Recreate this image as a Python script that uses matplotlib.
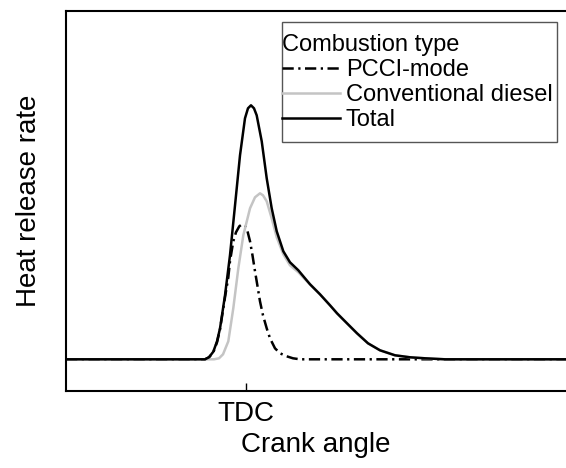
import matplotlib
matplotlib.use("Agg")
import matplotlib.pyplot as plt
from matplotlib.patches import Rectangle

plt.rcParams['font.family'] = ['Liberation Sans', 'DejaVu Sans']

# Crank angle (deg, TDC = 0) and heat release rate (arbitrary units)
total_x = [-30, -6.83, -6.17, -5.45, -4.83, -4.33, -3.5, -2.67, -1.83, -1.0, -0.17,
           0.33, 0.83, 1.33, 1.78, 2.62, 3.45, 4.28, 5.12, 6.22, 7.33, 8.72, 9.83,
           10.67, 12.33, 14.0, 15.17, 16.83, 18.5, 20.33, 22.33, 24.83, 27.33,
           29.83, 33.17, 55]
total_y = [0, 0, 2, 7.6, 18, 31, 64, 104, 154, 204, 241,
           251, 254, 251, 244, 218, 181, 151, 128, 108, 97, 89, 81,
           75, 65, 54, 46, 36, 26, 16, 9, 4, 2,
           1, 0, 0]

conv_x = [-30, -5.33, -4.5, -3.83, -2.95, -2.12, -1.28, -0.45, 0.67, 1.5, 2.33,
          2.83, 3.45, 4.28, 5.12, 6.22, 7.33, 8.72, 9.83, 10.67, 12.33, 14.0,
          15.17, 16.83, 18.5, 20.33, 22.33, 24.83, 27.33, 29.83, 33.17, 55]
conv_y = [0, 0, 1, 5, 18, 51, 91, 124, 151, 162, 166,
          164, 158, 141, 122, 105, 94, 87, 80, 75, 65, 54,
          46, 36, 26, 16, 9, 4, 2, 1, 0, 0]

pcci_x = [-30, -6.83, -6.17, -5.45, -4.83, -4.33, -3.5, -2.95, -2.67, -2.12, -1.67,
          -1.12, -0.67, -0.17, 0.25, 0.67, 1.08, 1.5, 1.92, 2.33, 2.83, 3.45,
          4.0, 4.83, 5.67, 6.78, 7.83, 9.0, 55]
pcci_y = [0, 0, 2, 7, 17, 30, 62, 82, 98, 118, 127,
          133, 135, 134, 128, 118, 104, 88, 73, 58, 44, 31,
          21, 11, 6, 3, 1, 0, 0]

tick_pos = [0]
tick_labels = ['TDC']

fig = plt.figure(figsize=(5.66, 4.68), dpi=100)
ax = fig.add_axes([66 / 566, 1 - 391 / 468, 1 - 66 / 566, (391 - 11) / 468])

ax.plot(pcci_x, pcci_y, color='black', lw=1.8, linestyle=(0, (4.5, 1.8, 0.9, 1.8)),
        label='PCCI-mode')
ax.plot(conv_x, conv_y, color='#c4c4c4', lw=1.8, label='Conventional diesel')
ax.plot(total_x, total_y, color='black', lw=1.8, label='Total')

ax.set_xlim(-30, 53.33)
ax.set_ylim(-31.7, 348.3)

ax.set_xticks(tick_pos)
ax.set_xticklabels(tick_labels)
ax.set_yticks([])
ax.tick_params(axis='x', direction='in', length=6, width=1.0, labelsize=20, pad=7)
for s in ['left', 'top', 'bottom']:
    ax.spines[s].set_linewidth(1.5)
ax.spines['right'].set_visible(False)

ax.set_xlabel('Crank angle', fontsize=20, labelpad=4)
ax.set_ylabel('Heat release rate', fontsize=20, labelpad=17)

# legend frame (drawn separately so handles can sit at the box edge)
x0 = (282 - 66) / 500
x1 = (557 - 66) / 500
y_top = (391 - 22) / 380
y_bot = (391 - 142) / 380
ax.add_patch(Rectangle((x0, y_bot), x1 - x0, y_top - y_bot, transform=ax.transAxes,
                       facecolor='white', edgecolor='#555555', lw=1.0, zorder=4))

leg = ax.legend(loc='upper left', bbox_to_anchor=(x0, (391 - 34) / 380), borderaxespad=0,
                title='Combustion type', alignment='left', fontsize=17,
                title_fontsize=17, frameon=False, borderpad=0.0, labelspacing=0.13,
                handlelength=2.45, handletextpad=0.25)
leg.set_zorder(5)

fig.savefig('out.png', dpi=100)
